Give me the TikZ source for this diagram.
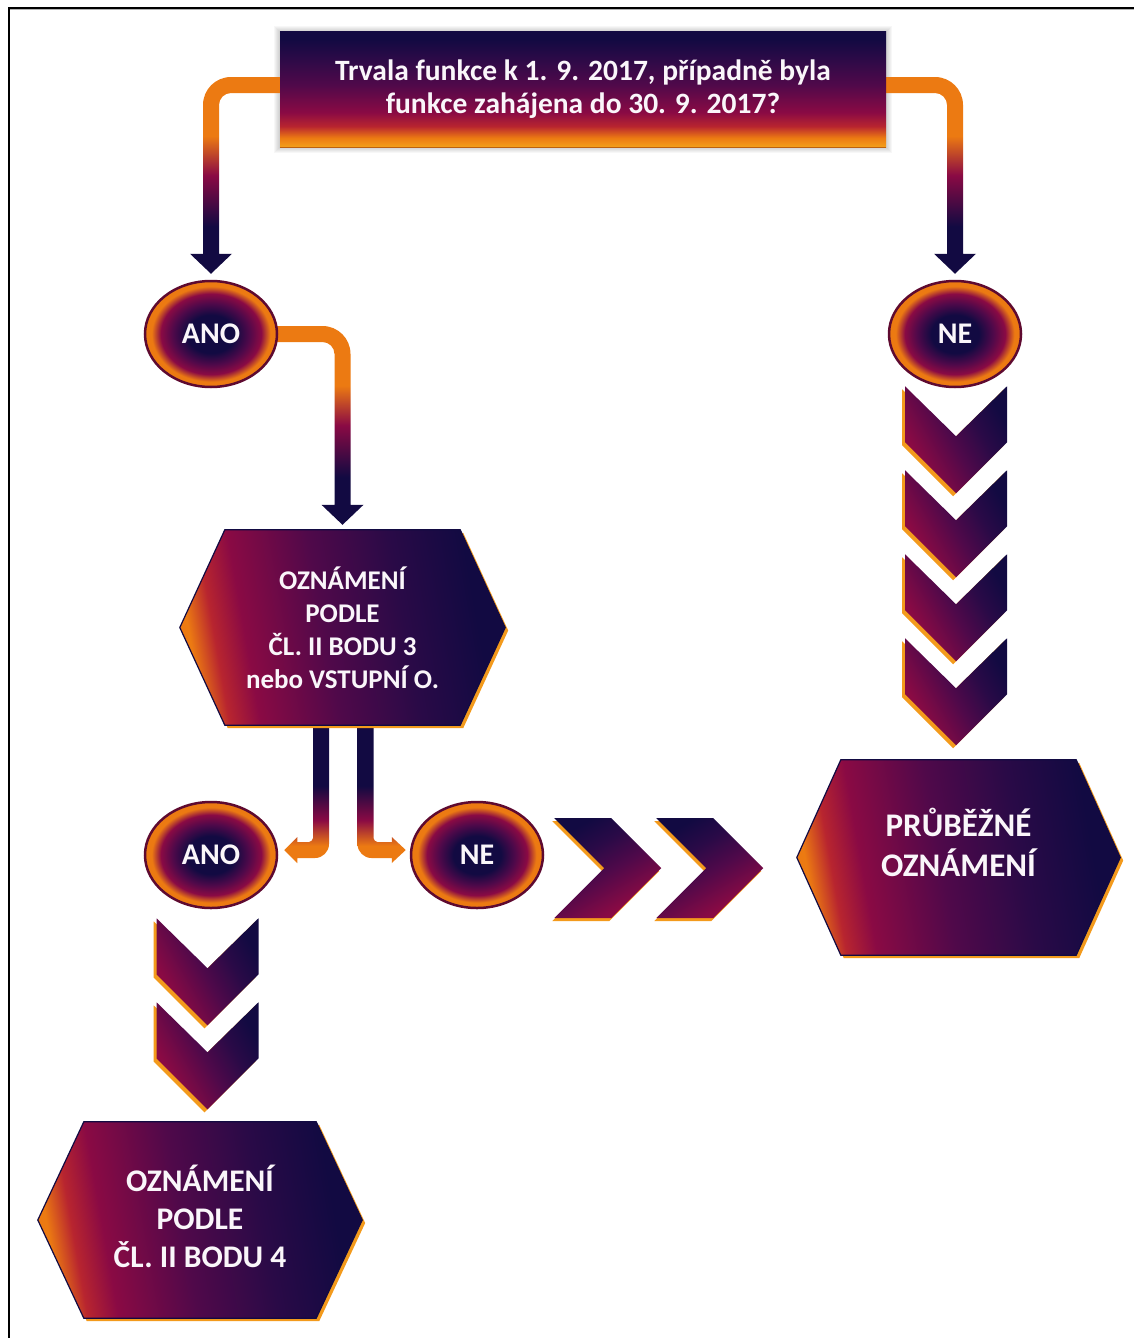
\documentclass[tikz,border=0pt]{standalone}
\usepackage{fontspec}
\setmainfont{Carlito}
\usetikzlibrary{shapes.geometric,calc}
\definecolor{cNavy}{HTML}{120A42}
\definecolor{cDeep}{HTML}{2A0A47}
\definecolor{cPurple}{HTML}{50094A}
\definecolor{cCrimson}{HTML}{8A0A44}
\definecolor{cRed}{HTML}{B8252F}
\definecolor{cOrange}{HTML}{EC7A12}
\definecolor{cGold}{HTML}{F4A01A}
\definecolor{cRim}{HTML}{F39A1C}
\definecolor{cEdge}{HTML}{5E0A30}
\definecolor{cText}{HTML}{FAF6FA}
\pgfdeclareverticalshading{titleshade}{100bp}{color(0bp)=(cGold); color(25bp)=(cGold); color(29bp)=(cOrange); color(34bp)=(cRed); color(40bp)=(cCrimson); color(52bp)=(cPurple); color(64bp)=(cDeep); color(72bp)=(cNavy); color(100bp)=(cNavy)}
\pgfdeclarehorizontalshading{hexshade}{100bp}{color(0bp)=(cOrange); color(25bp)=(cOrange); color(29bp)=(cRed); color(34bp)=(cCrimson); color(47bp)=(cPurple); color(60bp)=(cDeep); color(72bp)=(cNavy); color(100bp)=(cNavy)}
\pgfdeclarehorizontalshading{chevshade}{100bp}{color(0bp)=(cCrimson); color(25bp)=(cCrimson); color(30bp)=(cCrimson); color(48bp)=(cPurple); color(62bp)=(cDeep); color(75bp)=(cNavy); color(100bp)=(cNavy)}
\pgfdeclareverticalshading{pipedown}{100bp}{color(0bp)=(cNavy); color(25bp)=(cNavy); color(37bp)=(cNavy); color(50bp)=(cCrimson); color(60bp)=(cOrange); color(75bp)=(cOrange); color(100bp)=(cOrange)}
\pgfdeclareverticalshading{pipeup}{100bp}{color(0bp)=(cOrange); color(25bp)=(cOrange); color(31bp)=(cOrange); color(40bp)=(cCrimson); color(52bp)=(cNavy); color(75bp)=(cNavy); color(100bp)=(cNavy)}
\pgfdeclareradialshading{ellshade}{\pgfpoint{0bp}{0bp}}{color(0bp)=(cNavy); color(9bp)=(cNavy); color(14.5bp)=(cPurple); color(19bp)=(cCrimson); color(22.5bp)=(cOrange); color(25bp)=(cOrange); color(50bp)=(cOrange)}
\pgfdeclarelayer{bg}
\pgfsetlayers{bg,main}
\newcommand{\hexdraw}[2]{%
  \fill[cRim] ($(#1.north west)+(#2+3,3)$) -- ($(#1.north east)+(-#2+3,3)$) -- ($(#1.east)+(3,3)$) -- ($(#1.south east)+(-#2+3,3)$) -- ($(#1.south west)+(#2+3,3)$) -- ($(#1.west)+(3,3)$) -- cycle;
  \path[shade, shading=hexshade, shading angle=10, draw=cNavy, line width=1.2pt] ($(#1.north west)+(#2,0)$) -- ($(#1.north east)+(-#2,0)$) -- (#1.east) -- ($(#1.south east)+(-#2,0)$) -- ($(#1.south west)+(#2,0)$) -- (#1.west) -- cycle;
}
\tikzset{
  ttl/.style={rectangle, minimum width=606pt, minimum height=115pt, inner sep=0pt, shade, shading=titleshade, text=cText, align=center, font={\bfseries\fontsize{29.5}{33}\selectfont}},
  ell/.style={ellipse, minimum width=132pt, minimum height=106pt, inner sep=0pt, shade, shading=ellshade, draw=cEdge, line width=2.5pt, text=cText, font={\bfseries\fontsize{30}{34}\selectfont}},
  hexnode/.style={rectangle, inner sep=0pt, text=cText, align=center},
  pipeA/.style={shade, shading=pipedown},
  pipeB/.style={shade, shading=pipeup},
  vchev/.pic={
    \fill[cRim] (-54,3) -- (-3,53) -- (48,3) -- (48,59) -- (-3,110) -- (-54,59) -- cycle;
    \path[shade, shading=chevshade, shading angle=30] (-51,0) -- (0,50) -- (51,0) -- (51,56) -- (0,107) -- (-51,56) -- cycle;
  },
  hchev/.pic={
    \fill[cRim] (-2,-47) -- (55,-47) -- (105,3) -- (55,53) -- (-2,53) -- (48,3) -- cycle;
    \path[shade, shading=chevshade, shading angle=120] (0,-50) -- (57,-50) -- (107,0) -- (57,50) -- (0,50) -- (50,0) -- cycle;
  }
}
\begin{document}
\begin{tikzpicture}[x=1pt,y=-1pt]
\begin{pgfonlayer}{bg}
\fill[white] (0,0) rectangle (1134,1338);
\end{pgfonlayer}
\useasboundingbox (0,0) rectangle (1134,1338);
\draw[gray!60, line width=1pt] (10,10) -- (1134,10);
\draw[black, line width=2pt] (9,1338) -- (9,8) -- (1134,8);

% nodes
\node[ttl] (q) at (583,89.5) {Trvala funkce k 1. 9. 2017, případně byla\\funkce zahájena do 30. 9. 2017?};
\node[ell] (ano1) at (211,334) {ANO};
\node[ell] (ne1) at (955,334) {NE};
\node[ell] (ano2) at (211,855) {ANO};
\node[ell] (ne2) at (477,855) {NE};
\node[hexnode, minimum width=325pt, minimum height=195pt, font={\bfseries\fontsize{27}{33}\selectfont}] (h1) at (342.5,627.5) {\raisebox{-5pt}[\height][\depth]{\begin{tabular}{@{}c@{}}OZNÁMENÍ\\PODLE\\ČL. II BODU 3\\nebo VSTUPNÍ O.\end{tabular}}};
\node[hexnode, minimum width=323pt, minimum height=195pt, font={\bfseries\fontsize{33}{40}\selectfont}] (h2) at (958.5,857.5) {\raisebox{9pt}[\height][\depth]{\begin{tabular}{@{}c@{}}PRŮBĚŽNÉ\\OZNÁMENÍ\end{tabular}}};
\node[hexnode, minimum width=324pt, minimum height=196pt, font={\bfseries\fontsize{31.5}{38}\selectfont}] (h3) at (200,1220) {\raisebox{-1.5pt}[\height][\depth]{\begin{tabular}{@{}c@{}}OZNÁMENÍ\\PODLE\\ČL. II BODU 4\end{tabular}}};

\draw[cOrange!80!black, line width=1pt] (q.south west) -- (q.south east);

\begin{pgfonlayer}{bg}
% title shadow
\foreach \i in {1,...,6}
  \fill[black, opacity=0.03] ($(q.north west)+(-\i,-\i)$) rectangle ($(q.south east)+(\i,\i)$);
% title -> ANO
\coordinate (c1) at ($(ano1.north |- q.west)+(0,-4.5)$);
\path[pipeA] ($(q.west)+(2,-12.5)$) -- ($(c1)+(20,-8)$) .. controls ($(c1)+(4.5,-8)$) and ($(c1)+(-8,4.5)$) .. ($(c1)+(-8,20)$) -- ($(ano1.north)+(-8,-26)$) -- ($(ano1.north)+(-21,-26)$) -- ($(ano1.north)+(0,-6)$) -- ($(ano1.north)+(21,-26)$) -- ($(ano1.north)+(8,-26)$) -- ($(c1)+(8,20)$) .. controls ($(c1)+(8,13.4)$) and ($(c1)+(13.4,8)$) .. ($(c1)+(20,8)$) -- ($(q.west)+(2,3.5)$) -- cycle;
% title -> NE
\coordinate (c2) at ($(ne1.north |- q.east)+(0,-4.5)$);
\path[pipeA] ($(q.east)+(-2,-12.5)$) -- ($(c2)+(-20,-8)$) .. controls ($(c2)+(-4.5,-8)$) and ($(c2)+(8,4.5)$) .. ($(c2)+(8,20)$) -- ($(ne1.north)+(8,-26)$) -- ($(ne1.north)+(21,-26)$) -- ($(ne1.north)+(0,-6)$) -- ($(ne1.north)+(-21,-26)$) -- ($(ne1.north)+(-8,-26)$) -- ($(c2)+(-8,20)$) .. controls ($(c2)+(-8,13.4)$) and ($(c2)+(-13.4,8)$) .. ($(c2)+(-20,8)$) -- ($(q.east)+(-2,3.5)$) -- cycle;
% ANO -> h1
\coordinate (c3) at (h1.north |- ano1.east);
\path[pipeA] ($(ano1.east)+(-6,-8)$) -- ($(c3)+(-20,-8)$) .. controls ($(c3)+(-4.5,-8)$) and ($(c3)+(8,4.5)$) .. ($(c3)+(8,20)$) -- ($(h1.north)+(8,-25)$) -- ($(h1.north)+(21,-25)$) -- ($(h1.north)+(0,-5)$) -- ($(h1.north)+(-21,-25)$) -- ($(h1.north)+(-8,-25)$) -- ($(c3)+(-8,20)$) .. controls ($(c3)+(-8,13.4)$) and ($(c3)+(-13.4,8)$) .. ($(c3)+(-20,8)$) -- ($(ano1.east)+(-6,8)$) -- cycle;
% h1 -> ANO2
\coordinate (lp) at ($(h1.south)+(-21.5,0)$);
\coordinate (lc) at ($(lp |- ano2.east)+(0,-5)$);
\coordinate (lt) at ($(ano2.east)+(6,-5)$);
\path[pipeB] ($(lp)+(-8,-5)$) -- ($(lc)+(-8,-12)$) .. controls ($(lc)+(-8,-10.2)$) and ($(lc)+(-10.2,-8)$) .. ($(lc)+(-12,-8)$) -- ($(lt)+(13,-8)$) -- ($(lt)+(13,-13)$) -- (lt) -- ($(lt)+(13,13)$) -- ($(lt)+(13,8)$) -- ($(lc)+(-6,8)$) .. controls ($(lc)+(1.7,8)$) and ($(lc)+(8,1.7)$) .. ($(lc)+(8,-6)$) -- ($(lp)+(8,-5)$) -- cycle;
% h1 -> NE2
\coordinate (rp) at ($(h1.south)+(23,0)$);
\coordinate (rc) at ($(rp |- ne2.west)+(0,-5)$);
\coordinate (rt) at ($(ne2.west)+(-4,-5)$);
\path[pipeB] ($(rp)+(8,-5)$) -- ($(rc)+(8,-12)$) .. controls ($(rc)+(8,-10.2)$) and ($(rc)+(10.2,-8)$) .. ($(rc)+(12,-8)$) -- ($(rt)+(-14,-8)$) -- ($(rt)+(-14,-13)$) -- (rt) -- ($(rt)+(-14,13)$) -- ($(rt)+(-14,8)$) -- ($(rc)+(6,8)$) .. controls ($(rc)+(-1.7,8)$) and ($(rc)+(-8,1.7)$) .. ($(rc)+(-8,-6)$) -- ($(rp)+(-8,-5)$) -- cycle;
% hexagons
\hexdraw{h1}{45}
\hexdraw{h2}{44}
\hexdraw{h3}{46}
\end{pgfonlayer}

% chevron chains
\foreach \k in {0,1,2,3}
  \pic at ($(ne1.south)+(1,-2+84*\k)$) {vchev};
\foreach \k in {0,1}
  \pic at ($(ano2.south)+(-3.5,9+84*\k)$) {vchev};
\foreach \k in {0,1}
  \pic at ($(ne2.east)+(10+102*\k,13)$) {hchev};
\end{tikzpicture}
\end{document}
